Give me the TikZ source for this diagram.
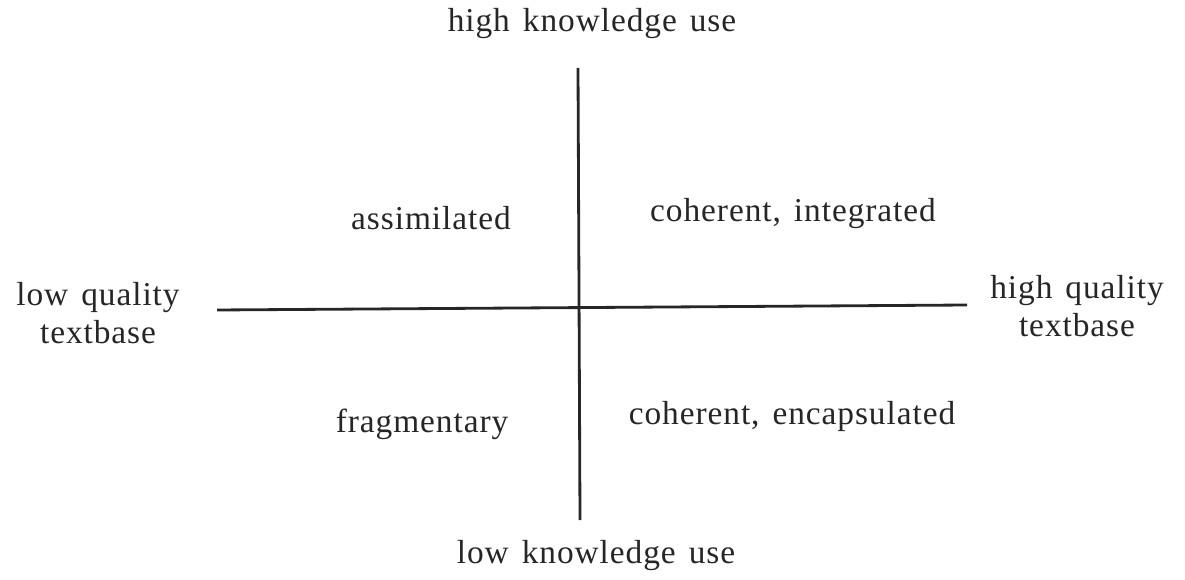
\documentclass[tikz,border=0pt]{standalone}
\usepackage{fontspec}
\setmainfont{Liberation Serif}
\newfontfamily\kqfont[LetterSpace=2.8,WordSpace=1.4]{Liberation Serif}
\usepackage{tikz}
\usetikzlibrary{positioning}
\tikzset{
  kqaxis/.style={line width=1.6pt,draw=black!85},
  kqlabel/.style={font=\kqfont\fontsize{19}{22}\selectfont,align=center,inner sep=1pt,text=black!85},
  kqquad/.style={kqlabel}
}

\begin{document}
\begin{tikzpicture}[x=0.02cm,y=-0.02cm]
  \useasboundingbox (0,0) rectangle (1185,580);
  \coordinate (vtop) at (578,68);
  \coordinate (vbot) at (580,520);
  \coordinate (hleft) at (217,310);
  \coordinate (hright) at (967,305);
  \draw[kqaxis] (vtop) -- (vbot);
  \draw[kqaxis] (hleft) -- (hright);
  \node[kqlabel] (highuse) at (592,24) {high knowledge use};
  \node[kqlabel] (lowuse) at (596,556) {low knowledge use};
  \node[kqlabel] (lowq) at (98,313) {low quality\\textbase};
  \node[kqlabel] (highq) at (1077,306) {high quality\\textbase};
  \node[kqquad] (assim) at (431,218) {assimilated};
  \node[kqquad] (cohint) at (793,214) {coherent, integrated};
  \node[kqquad] (frag) at (422,424) {fragmentary};
  \node[kqquad] (cohenc) at (792,416) {coherent, encapsulated};
\end{tikzpicture}
\end{document}
